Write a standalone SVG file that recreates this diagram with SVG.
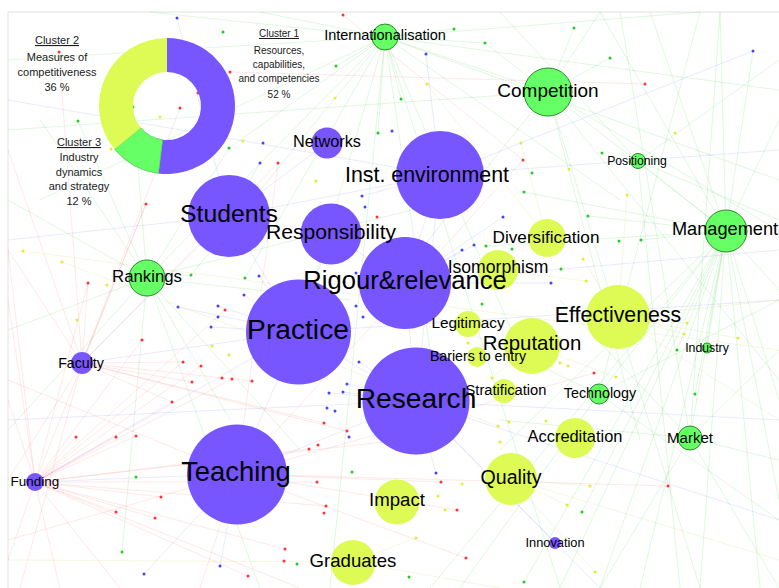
<svg xmlns="http://www.w3.org/2000/svg" width="779" height="588" viewBox="0 0 779 588">
<style>
.lbl{font-family:"Liberation Sans",Arial,sans-serif;fill:#000;text-anchor:middle}
.cl{font-family:"Liberation Sans",Arial,sans-serif;fill:#1a1a1a;text-anchor:middle;font-size:11px}
.p{fill:#7755ff}
.g{fill:#66ff66;stroke:#2a8a2a;stroke-width:1}
.y{fill:#ddfa55}
.eg{stroke:#33cc33;stroke-width:0.7;opacity:0.22;fill:none}
.er{stroke:#ff4444;stroke-width:0.7;opacity:0.18;fill:none}
.eb{stroke:#5555ff;stroke-width:0.7;opacity:0.18;fill:none}
.ey{stroke:#bbbb22;stroke-width:0.7;opacity:0.2;fill:none}
.dr{fill:#ff3333}.dg{fill:#22cc22}.db{fill:#4444ff}.dy{fill:#ddee33}
</style>
<rect width="779" height="588" fill="#fff"/>
<path d="M8 588 V12 H779" fill="none" stroke="#e2e2e2" stroke-width="1"/>

<g id="connectors">
<path class="eg" d="M726 231L779 120M726 231L779 290M726 231L779 400M726 231L779 500M726 231L760 588M726 231L700 588M726 231L640 588M726 231L600 588M726 231L560 588M726 231L720 12M726 231L650 12M726 231L600 12M726 231L548 92M726 231L638 161M726 231L599 394M726 231L690 438M726 231L707 348M726 231L588 216M726 231L641 240M726 231L677 350M726 231L695 394M726 231L582 512M726 231L524 582M726 231L753 51M726 231L486 246M726 231L524 192M726 231L430 588M726 231L500 450"/>
<path class="eg" d="M385 37L229 148M385 37L191 275M385 37L147 278M385 37L245 278M385 37L336 66M385 37L401 99M385 37L454 29M385 37L485 43M385 37L378 133M385 37L300 330M385 37L440 420M385 37L560 588M385 37L330 588M385 37L520 350M385 37L260 12M385 37L620 200M385 37L779 90M385 37L150 12M385 37L40 200M385 37L8 60M385 37L700 12M385 37L548 92M385 37L779 180"/>
<path class="eg" d="M548 92L779 231M548 92L640 440M548 92L574 28M548 92L610 58M548 92L485 43M548 92L700 588M548 92L380 300M548 92L779 380M548 92L8 130M548 92L600 12"/>
<path class="eg" d="M147 278L8 200M147 278L40 120M147 278L78 121M147 278L191 275M147 278L300 450M147 278L260 588M147 278L8 330M147 278L122 552M147 278L350 300M147 278L450 200M147 278L230 420M147 278L133 107M147 278L229 148M147 278L8 430"/>
<path class="eg" d="M690 438L779 350M690 438L779 588M690 438L600 588M690 438L500 420M690 438L560 300M690 438L720 12M690 438L620 12M690 438L779 460M599 394L779 300M599 394L460 588M599 394L779 520M599 394L700 12M599 394L400 300M638 161L779 60M638 161L779 220M638 161L680 588M638 161L500 12"/>
<path class="er" d="M35 482L76 437M35 482L116 437M35 482L136 436M35 482L172 402M35 482L161 497M35 482L116 512M35 482L155 518M35 482L142 340M35 482L88 283M35 482L146 204M35 482L225 310M35 482L317 482M35 482L309 449M35 482L326 506M35 482L285 549M35 482L248 576M35 482L8 400M35 482L8 560M35 482L60 588M35 482L232 379M35 482L400 440M35 482L8 300M35 482L201 366M35 482L183 362M35 482L120 588M35 482L8 250M35 482L300 588"/>
<path class="er" d="M82 363L8 250M82 363L59 52M82 363L146 204M82 363L88 283M82 363L183 362M82 363L192 382M82 363L252 381M82 363L324 423M82 363L347 431M82 363L172 402M82 363L20 588M82 363L180 108M82 363L8 150M82 363L278 163M82 363L8 480"/>
<path class="er" d="M237 474L441 482M237 474L457 510M237 474L466 558M237 474L594 373M237 474L668 486M237 474L523 160M237 474L278 163M237 474L8 380M237 474L8 540M237 474L200 588M230 72L645 84M343 15L523 160"/>
<path class="eb" d="M416 401L237 474M416 401L298 332M416 401L405 283M416 401L440 175M416 401L555 543M416 401L329 393M416 401L343 392M416 401L347 384M416 401L359 362M416 401L436 473M416 401L779 420M416 401L779 520M416 401L600 588M416 401L8 420"/>
<path class="eb" d="M298 332L229 216M298 332L331 234M298 332L82 363M298 332L178 307M298 332L218 306M298 332L244 295M298 332L259 276M298 332L211 327M298 332L35 482M298 332L237 474M298 332L779 300"/>
<path class="eb" d="M229 216L440 175M229 216L327 143M229 216L177 18M229 216L260 163M229 216L8 240M229 216L82 363M440 175L426 54M440 175L753 51M440 175L405 283M440 175L362 196M440 175L779 150M440 175L8 100M405 283L331 234M405 283L462 250M405 283L474 245M405 283L551 283M405 283L503 217M405 283L779 250M237 474L35 482M237 474L220 566M237 474L144 574"/>
<path class="ey" d="M618 317L738 338M618 317L779 300M618 317L687 323M618 317L684 334M618 317L627 195M618 317L583 259M618 317L779 420M511 479L590 486M511 479L779 560M511 479L567 505M511 479L595 572M532 346L560 363M532 346L568 366M532 346L616 377M532 346L492 378M353 562L500 588M353 562L416 538M353 562L8 560M498 270L586 281M547 238L521 143M547 238L427 84M23 251L779 350M62 262L498 426"/>
</g>

<g id="dots">
<g class="dr"><circle cx="59" cy="52" r="1.5"/><circle cx="230" cy="72" r="1.5"/><circle cx="198" cy="93" r="1.5"/><circle cx="180" cy="108" r="1.5"/><circle cx="343" cy="15" r="1.5"/><circle cx="278" cy="163" r="1.5"/><circle cx="523" cy="160" r="1.5"/><circle cx="645" cy="84" r="1.5"/><circle cx="146" cy="204" r="1.5"/><circle cx="88" cy="283" r="1.5"/><circle cx="225" cy="310" r="1.5"/><circle cx="142" cy="340" r="1.5"/><circle cx="183" cy="362" r="1.5"/><circle cx="201" cy="366" r="1.5"/><circle cx="192" cy="382" r="1.5"/><circle cx="222" cy="378" r="1.5"/><circle cx="232" cy="379" r="1.5"/><circle cx="252" cy="381" r="1.5"/><circle cx="377" cy="217" r="1.5"/><circle cx="594" cy="373" r="1.5"/><circle cx="172" cy="402" r="1.5"/><circle cx="324" cy="423" r="1.5"/><circle cx="347" cy="431" r="1.5"/><circle cx="76" cy="437" r="1.5"/><circle cx="116" cy="437" r="1.5"/><circle cx="136" cy="436" r="1.5"/><circle cx="309" cy="449" r="1.5"/><circle cx="318" cy="445" r="1.5"/><circle cx="317" cy="482" r="1.5"/><circle cx="161" cy="497" r="1.5"/><circle cx="116" cy="512" r="1.5"/><circle cx="155" cy="518" r="1.5"/><circle cx="326" cy="506" r="1.5"/><circle cx="324" cy="513" r="1.5"/><circle cx="285" cy="549" r="1.5"/><circle cx="284" cy="561" r="1.5"/><circle cx="248" cy="576" r="1.5"/><circle cx="441" cy="482" r="1.5"/><circle cx="457" cy="510" r="1.5"/><circle cx="466" cy="558" r="1.5"/><circle cx="668" cy="486" r="1.5"/></g>
<g class="dg"><circle cx="223" cy="32" r="1.5"/><circle cx="133" cy="107" r="1.5"/><circle cx="78" cy="121" r="1.5"/><circle cx="229" cy="148" r="1.5"/><circle cx="454" cy="29" r="1.5"/><circle cx="485" cy="43" r="1.5"/><circle cx="336" cy="66" r="1.5"/><circle cx="401" cy="99" r="1.5"/><circle cx="378" cy="133" r="1.5"/><circle cx="574" cy="28" r="1.5"/><circle cx="610" cy="58" r="1.5"/><circle cx="602" cy="153" r="1.5"/><circle cx="532" cy="173" r="1.5"/><circle cx="524" cy="192" r="1.5"/><circle cx="191" cy="275" r="1.5"/><circle cx="245" cy="278" r="1.5"/><circle cx="588" cy="216" r="1.5"/><circle cx="486" cy="246" r="1.5"/><circle cx="512" cy="249" r="1.5"/><circle cx="619" cy="241" r="1.5"/><circle cx="641" cy="240" r="1.5"/><circle cx="561" cy="269" r="1.5"/><circle cx="482" cy="304" r="1.5"/><circle cx="677" cy="350" r="1.5"/><circle cx="695" cy="394" r="1.5"/><circle cx="136" cy="477" r="1.5"/><circle cx="352" cy="472" r="1.5"/><circle cx="122" cy="552" r="1.5"/><circle cx="297" cy="564" r="1.5"/><circle cx="409" cy="577" r="1.5"/><circle cx="524" cy="582" r="1.5"/><circle cx="582" cy="512" r="1.5"/></g>
<g class="db"><circle cx="177" cy="18" r="1.5"/><circle cx="426" cy="54" r="1.5"/><circle cx="753" cy="51" r="1.5"/><circle cx="263" cy="143" r="1.5"/><circle cx="392" cy="131" r="1.5"/><circle cx="260" cy="163" r="1.5"/><circle cx="362" cy="196" r="1.5"/><circle cx="365" cy="207" r="1.5"/><circle cx="503" cy="217" r="1.5"/><circle cx="462" cy="250" r="1.5"/><circle cx="474" cy="245" r="1.5"/><circle cx="551" cy="283" r="1.5"/><circle cx="259" cy="276" r="1.5"/><circle cx="244" cy="295" r="1.5"/><circle cx="178" cy="307" r="1.5"/><circle cx="218" cy="306" r="1.5"/><circle cx="218" cy="317" r="1.5"/><circle cx="211" cy="327" r="1.5"/><circle cx="356" cy="273" r="1.5"/><circle cx="344" cy="282" r="1.5"/><circle cx="356" cy="306" r="1.5"/><circle cx="363" cy="317" r="1.5"/><circle cx="359" cy="362" r="1.5"/><circle cx="347" cy="384" r="1.5"/><circle cx="343" cy="392" r="1.5"/><circle cx="329" cy="393" r="1.5"/><circle cx="327" cy="408" r="1.5"/><circle cx="335" cy="411" r="1.5"/><circle cx="349" cy="437" r="1.5"/><circle cx="436" cy="473" r="1.5"/><circle cx="220" cy="566" r="1.5"/><circle cx="144" cy="574" r="1.5"/></g>
<g class="dy"><circle cx="160" cy="117" r="1.5"/><circle cx="243" cy="141" r="1.5"/><circle cx="111" cy="149" r="1.5"/><circle cx="427" cy="84" r="1.5"/><circle cx="335" cy="98" r="1.5"/><circle cx="521" cy="143" r="1.5"/><circle cx="316" cy="181" r="1.5"/><circle cx="675" cy="133" r="1.5"/><circle cx="569" cy="169" r="1.5"/><circle cx="627" cy="195" r="1.5"/><circle cx="23" cy="251" r="1.5"/><circle cx="62" cy="262" r="1.5"/><circle cx="107" cy="285" r="1.5"/><circle cx="77" cy="320" r="1.5"/><circle cx="583" cy="259" r="1.5"/><circle cx="586" cy="281" r="1.5"/><circle cx="212" cy="346" r="1.5"/><circle cx="229" cy="355" r="1.5"/><circle cx="468" cy="343" r="1.5"/><circle cx="687" cy="323" r="1.5"/><circle cx="684" cy="334" r="1.5"/><circle cx="738" cy="338" r="1.5"/><circle cx="560" cy="363" r="1.5"/><circle cx="568" cy="366" r="1.5"/><circle cx="616" cy="377" r="1.5"/><circle cx="492" cy="378" r="1.5"/><circle cx="498" cy="426" r="1.5"/><circle cx="509" cy="422" r="1.5"/><circle cx="546" cy="421" r="1.5"/><circle cx="500" cy="442" r="1.5"/><circle cx="462" cy="484" r="1.5"/><circle cx="438" cy="496" r="1.5"/><circle cx="445" cy="510" r="1.5"/><circle cx="590" cy="486" r="1.5"/><circle cx="567" cy="505" r="1.5"/><circle cx="416" cy="538" r="1.5"/><circle cx="595" cy="572" r="1.5"/></g>
<circle cx="200" cy="123" r="1.5" fill="#884422"/>
</g>

<g id="legend">
<path d="M167 38A68 68 0 1 1 158.48 173.46L162.74 139.73A34 34 0 1 0 167 72Z" fill="#7755ff"/>
<path d="M158.48 173.46A68 68 0 0 1 114.61 149.34L140.8 127.67A34 34 0 0 0 162.74 139.73Z" fill="#66ff66" stroke="#44bb44" stroke-width="0.6"/>
<path d="M114.61 149.34A68 68 0 0 1 167 38L167 72A34 34 0 0 0 140.8 127.67Z" fill="#ddfa55"/>
<text class="cl" x="57" y="44" text-decoration="underline">Cluster 2</text>
<text class="cl" x="57" y="61">Measures of</text>
<text class="cl" x="57" y="76">competitiveness</text>
<text class="cl" x="57" y="91">36 %</text>
<text class="cl" x="79" y="146" text-decoration="underline">Cluster 3</text>
<text class="cl" x="79" y="161">Industry</text>
<text class="cl" x="79" y="176">dynamics</text>
<text class="cl" x="79" y="190">and strategy</text>
<text class="cl" x="79" y="205">12 %</text>
<text class="cl" x="279" y="37" style="font-size:10px" text-decoration="underline">Cluster 1</text>
<text class="cl" x="279" y="54" style="font-size:10px">Resources,</text>
<text class="cl" x="279" y="68" style="font-size:10px">capabilities,</text>
<text class="cl" x="279" y="82" style="font-size:10px">and competencies</text>
<text class="cl" x="279" y="98" style="font-size:10px">52 %</text>
</g>

<g id="n-research"><circle class="p" cx="416" cy="401" r="53.5"/><text class="lbl" x="416" y="408" font-size="28.2">Research</text></g>
<g id="n-practice"><circle class="p" cx="298.5" cy="332" r="52.5"/><text class="lbl" x="298" y="339" font-size="28.2">Practice</text></g>
<g id="n-teaching"><circle class="p" cx="237" cy="474.5" r="50"/><text class="lbl" x="236" y="481" font-size="27.4">Teaching</text></g>
<g id="n-isomorphism"><circle class="y" cx="498" cy="270" r="20"/><text class="lbl" x="498" y="273" font-size="17.6">Isomorphism</text></g>
<g id="n-rigour"><circle class="p" cx="405" cy="283" r="46"/><text class="lbl" x="405" y="289" font-size="25.6">Rigour&amp;relevance</text></g>
<g id="n-inst"><circle class="p" cx="440" cy="175" r="44"/><text class="lbl" x="427" y="182" font-size="21.4">Inst. environment</text></g>
<g id="n-students"><circle class="p" cx="229" cy="216" r="41"/><text class="lbl" x="229" y="222" font-size="24.8">Students</text></g>
<g id="n-effectiveness"><circle class="y" cx="618" cy="317" r="32"/><text class="lbl" x="618" y="322" font-size="21.3">Effectiveness</text></g>
<g id="n-responsibility"><circle class="p" cx="331" cy="234" r="30.5"/><text class="lbl" x="331" y="239" font-size="21.1">Responsibility</text></g>
<g id="n-reputation"><circle class="y" cx="532" cy="346" r="28"/><text class="lbl" x="532" y="350" font-size="20.4">Reputation</text></g>
<g id="n-quality"><circle class="y" cx="511" cy="479" r="26"/><text class="lbl" x="511" y="484" font-size="19.6">Quality</text></g>
<g id="n-competition"><circle class="g" cx="548" cy="92" r="24"/><text class="lbl" x="548" y="97" font-size="19">Competition</text></g>
<g id="n-graduates"><circle class="y" cx="353" cy="562.5" r="22.5"/><text class="lbl" x="353" y="567" font-size="18.6">Graduates</text></g>
<g id="n-impact"><circle class="y" cx="397" cy="502" r="22.5"/><text class="lbl" x="397" y="506" font-size="18.6">Impact</text></g>
<g id="n-management"><circle class="g" cx="726" cy="231" r="21"/><text class="lbl" x="725" y="235" font-size="18.2">Management</text></g>
<g id="n-accreditation"><circle class="y" cx="575" cy="438" r="20"/><text class="lbl" x="575" y="442" font-size="16.4">Accreditation</text></g>
<g id="n-diversification"><circle class="y" cx="547" cy="238" r="19"/><text class="lbl" x="546" y="243" font-size="17.2">Diversification</text></g>
<g id="n-rankings"><circle class="g" cx="147" cy="278" r="18"/><text class="lbl" x="147" y="282" font-size="16.8">Rankings</text></g>
<g id="n-networks"><circle class="p" cx="327" cy="143" r="15.5"/><text class="lbl" x="327" y="147" font-size="16.3">Networks</text></g>
<g id="n-legitimacy"><circle class="y" cx="468" cy="324" r="13"/><text class="lbl" x="468" y="328" font-size="15.3">Legitimacy</text></g>
<g id="n-internationalisation"><circle class="g" cx="385" cy="37" r="13"/><text class="lbl" x="385" y="40" font-size="14.5">Internationalisation</text></g>
<g id="n-stratification"><circle class="y" cx="504" cy="391" r="12"/><text class="lbl" x="506" y="395" font-size="14.7">Stratification</text></g>
<g id="n-market"><circle class="g" cx="690" cy="438" r="12"/><text class="lbl" x="690" y="443" font-size="15">Market</text></g>
<g id="n-faculty"><circle class="p" cx="82" cy="363" r="11"/><text class="lbl" x="81" y="368" font-size="14.2">Faculty</text></g>
<g id="n-bariers"><circle class="y" cx="477" cy="357" r="10"/><text class="lbl" x="478" y="361" font-size="14.2">Bariers to entry</text></g>
<g id="n-technology"><circle class="g" cx="599" cy="394" r="10"/><text class="lbl" x="600" y="398" font-size="14.3">Technology</text></g>
<g id="n-funding"><circle class="p" cx="35" cy="482" r="9"/><text class="lbl" x="35" y="486" font-size="13.5">Funding</text></g>
<g id="n-positioning"><circle class="g" cx="638" cy="161" r="7.5"/><text class="lbl" x="637" y="165" font-size="12.2">Positioning</text></g>
<g id="n-innovation"><circle class="p" cx="555" cy="543" r="6"/><text class="lbl" x="555" y="547" font-size="12.8">Innovation</text></g>
<g id="n-industry"><circle class="g" cx="707" cy="348" r="5"/><text class="lbl" x="707" y="352" font-size="12.3">Industry</text></g>
</svg>
